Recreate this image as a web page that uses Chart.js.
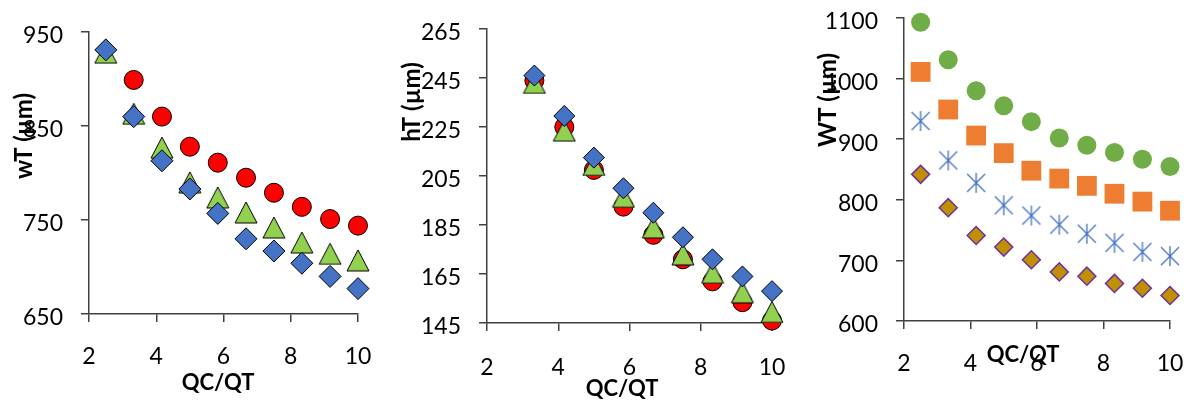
<!DOCTYPE html>
<html>
<head>
<meta charset="utf-8">
<script src="https://cdn.jsdelivr.net/npm/chart.js@4.4.1/dist/chart.umd.min.js"></script>
<style>
  body { margin: 0; background: #fff; }
  .panel { position: absolute; top: 0; width: 395px; height: 402px; }
</style>
</head>
<body>
<div class="panel" style="left:0"><canvas id="c1" width="395" height="402"></canvas></div>
<div class="panel" style="left:395px"><canvas id="c2" width="395" height="402"></canvas></div>
<div class="panel" style="left:790px"><canvas id="c3" width="395" height="402"></canvas></div>
<script>
// QC/QT ratio (shared x values)
const qcqt = [2.5, 3.33, 4.17, 5, 5.83, 6.67, 7.5, 8.33, 9.17, 10];

// left panel: wT (µm)
const wtRed = [null, 899, 860, 828, 811, 795, 779, 764, 751, 744];
const wtGreen = [928, 863, 827, 790, 774, 758, 742, 726, 714, 707];
const wtBlue = [931, 860, 813, 783, 757, 730, 717, 704, 690, 677];

// middle panel: hT (µm)
const htRed = [null, 244, 225, 207.5, 192.5, 181, 171, 162, 153.5, 146];
const htGreen = [null, 243, 223.5, 209.5, 196.5, 184, 173, 165.5, 157.5, 149.5];
const htBlue = [null, 246, 229.5, 212.5, 200, 190, 180, 171, 164, 158];

// right panel: WT (µm)
const bigGreen = [1093, 1031, 980, 955, 929, 902, 890, 878, 867, 855];
const bigOrange = [1011, 949, 906, 877, 848, 835, 823, 810, 797, 782];
const bigBlue = [930, 865, 828, 791, 774, 759, 744, 729, 714, 707];
const bigGold = [842, 787, 741, 722, 701, 681, 674, 662, 654, 642];

const xTicks = [2, 4, 6, 8, 10];
const axisTitleX = "QC/QT";
const axisTitlesY = ["wT (µm)", "hT (µm)", "WT (µm)"];

Chart.defaults.animation = false;
Chart.defaults.font.family = "Lato, 'Open Sans', sans-serif";

function points(ys) {
  return qcqt.map((x, i) => ({ x: x, y: ys[i] })).filter(p => p.y !== null);
}

// excel-like marker images
function triangleImg(fill) {
  const c = document.createElement("canvas");
  c.width = 24; c.height = 23;
  const g = c.getContext("2d");
  g.beginPath();
  g.moveTo(12, 1);
  g.lineTo(23, 22);
  g.lineTo(1, 22);
  g.closePath();
  g.fillStyle = fill;
  g.fill();
  g.strokeStyle = "#000";
  g.lineWidth = 1;
  g.stroke();
  return c;
}

function asteriskImg(color) {
  const c = document.createElement("canvas");
  c.width = 22; c.height = 22;
  const g = c.getContext("2d");
  g.strokeStyle = color;
  g.lineWidth = 1.3;
  g.beginPath();
  g.moveTo(2, 2); g.lineTo(20, 20);
  g.moveTo(20, 2); g.lineTo(2, 20);
  g.moveTo(11, 1); g.lineTo(11, 21);
  g.stroke();
  return c;
}

const titlesPlugin = {
  id: "titles",
  afterDraw(chart, args, opts) {
    const ctx = chart.ctx;
    ctx.save();
    ctx.fillStyle = "#000";
    ctx.textAlign = "center";
    ctx.textBaseline = "middle";
    ctx.font = "bold 22px Lato, 'Open Sans', sans-serif";
    ctx.fillText(opts.xText, opts.xPos[0], opts.xPos[1]);
    ctx.font = "bold 24px Lato, 'Open Sans', sans-serif";
    ctx.translate(opts.yPos[0], opts.yPos[1]);
    ctx.rotate(-Math.PI / 2);
    ctx.fillText(opts.yText, 0, 0);
    ctx.restore();
  }
};

function makeChart(id, area, yMin, yMax, yStep, xPad, datasets, xTitlePos, yTitle, yTitlePos) {
  const axisColor = "#404040";
  const tickFont = { size: 23 };
  new Chart(document.getElementById(id), {
    type: "scatter",
    data: { datasets: datasets },
    options: {
      responsive: false,
      layout: { padding: { left: 0, top: area.top, right: 395 - area.right, bottom: 0 } },
      plugins: {
        legend: { display: false },
        tooltip: { enabled: false },
        titles: { xText: axisTitleX, xPos: xTitlePos, yText: yTitle, yPos: yTitlePos }
      },
      scales: {
        x: {
          type: "linear",
          min: 2, max: 10,
          afterFit(s) { s.height = 402 - area.bottom; s.paddingLeft = 0; s.paddingRight = 0; },
          afterBuildTicks(s) { s.ticks = xTicks.map(v => ({ value: v })); },
          ticks: { color: "#000", font: tickFont, padding: xPad },
          grid: { drawOnChartArea: false, drawTicks: true, tickLength: 8, color: axisColor, lineWidth: 1.5 },
          border: { color: axisColor, width: 1.5 }
        },
        y: {
          min: yMin, max: yMax,
          afterFit(s) { s.width = area.left; s.paddingTop = 0; s.paddingBottom = 0; },
          ticks: { stepSize: yStep, color: "#000", font: tickFont, padding: 18, labelOffset: 4,
                   callback: v => String(v) },
          grid: { drawOnChartArea: false, drawTicks: true, tickLength: 8, color: axisColor, lineWidth: 1.5 },
          border: { color: axisColor, width: 1.5 }
        }
      }
    },
    plugins: [titlesPlugin]
  });
}

const greenTri = triangleImg("#92D050");

// left
makeChart("c1", { left: 89, right: 358, top: 32, bottom: 314 }, 650, 950, 100, 21, [
  { data: points(wtBlue), pointStyle: "rectRot", pointRadius: 11, backgroundColor: "#4472C4", borderColor: "#000", borderWidth: 1, clip: false },
  { data: points(wtGreen), pointStyle: greenTri, backgroundColor: "#92D050", clip: false },
  { data: points(wtRed), pointStyle: "circle", pointRadius: 9.5, backgroundColor: "#FF0000", borderColor: "#000", borderWidth: 1, clip: false }
], [218, 383], axisTitlesY[0], [24, 136]);

// middle
makeChart("c2", { left: 92, right: 377, top: 29, bottom: 323 }, 145, 265, 20, 23, [
  { data: points(htBlue), pointStyle: "rectRot", pointRadius: 10.5, backgroundColor: "#4472C4", borderColor: "#000", borderWidth: 1, clip: false },
  { data: points(htGreen), pointStyle: greenTri, backgroundColor: "#92D050", clip: false },
  { data: points(htRed), pointStyle: "circle", pointRadius: 9.5, backgroundColor: "#FF0000", borderColor: "#000", borderWidth: 1, clip: false }
], [227, 389], axisTitlesY[1], [17, 102]);

// right
makeChart("c3", { left: 114, right: 380, top: 18, bottom: 321 }, 600, 1100, 100, 21, [
  { data: points(bigGreen), pointStyle: "circle", pointRadius: 9.5, backgroundColor: "#70AD47", borderWidth: 0, clip: false },
  { data: points(bigOrange), pointStyle: "rect", pointRadius: 14, backgroundColor: "#ED7D31", borderWidth: 0, clip: false },
  { data: points(bigBlue), pointStyle: asteriskImg("#4472C4"), clip: false },
  { data: points(bigGold), pointStyle: "rectRot", pointRadius: 9, backgroundColor: "#BF9000", borderColor: "#7030A0", borderWidth: 1.5, clip: false }
], [233, 355], axisTitlesY[2], [38, 100]);
</script>
</body>
</html>
